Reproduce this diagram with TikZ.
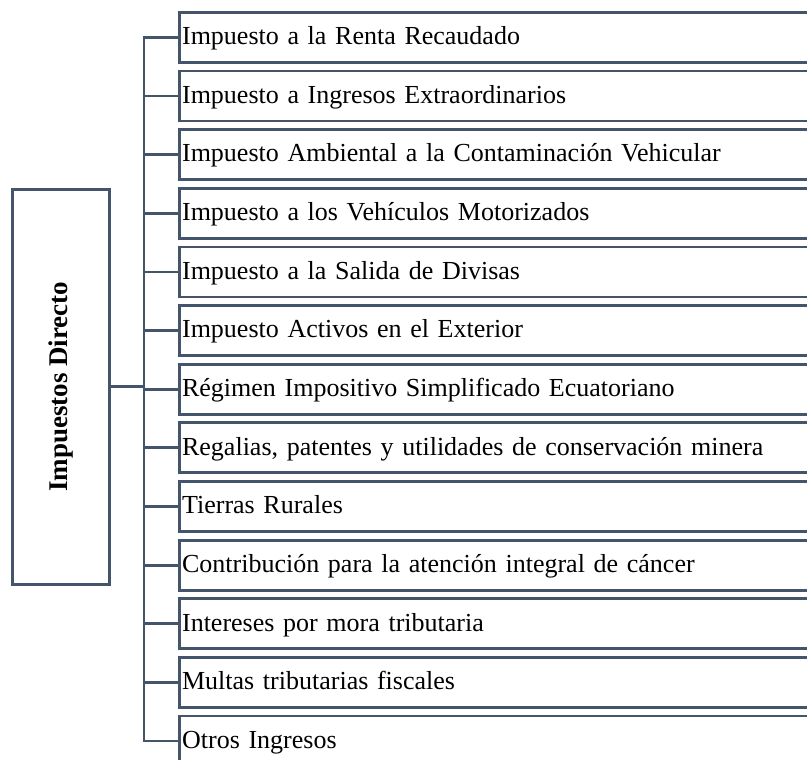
\documentclass[tikz,border=0pt]{standalone}
\usepackage{fontspec}
\setmainfont{Liberation Serif}
\definecolor{edge}{HTML}{44546A}
\begin{document}
\begin{tikzpicture}[x=1pt,y=-1pt,
  item/.style={draw=edge, line width=2.8pt, anchor=north west, minimum height=50pt,
    text width=640pt, align=left, inner xsep=3pt, inner ysep=0pt,
    text height=18pt, text depth=3.5pt, font=\fontsize{26}{30}\selectfont},
  rootbox/.style={draw=edge, line width=2.8pt, minimum width=97pt, minimum height=395pt, inner sep=0pt},
  conn/.style={draw=edge, line width=2.8pt}]
\useasboundingbox (0,0) rectangle (807,760);
\clip (0,0) rectangle (807,760);
\fill[white] (0,0) rectangle (807,760);
\coordinate (tx) at (144,0);
\node[rootbox] (root) at (60.8,386.8) {\rotatebox{90}{\bfseries\fontsize{27}{30}\selectfont Impuestos Directo}};
\foreach \t [count=\i] in {
  {Impuesto a la Renta Recaudado},
  {Impuesto a Ingresos Extraordinarios},
  {Impuesto Ambiental a la Contaminación Vehicular},
  {Impuesto a los Vehículos Motorizados},
  {Impuesto a la Salida de Divisas},
  {Impuesto Activos en el Exterior},
  {Régimen Impositivo Simplificado Ecuatoriano},
  {Regalias, patentes y utilidades de conservación minera},
  {Tierras Rurales},
  {Contribución para la atención integral de cáncer},
  {Intereses por mora tributaria},
  {Multas tributarias fiscales},
  {Otros Ingresos}}
  \node[item] (b\i) at (177.7,{11+(\i-1)*58.64}) {\t};
\draw[conn] (b1.west) -- (b1.west -| tx) |- (b13.west);
\foreach \i in {2,...,12} \draw[conn] (b\i.west) -- (b\i.west -| tx);
\draw[conn] (root.east) -- (root.east -| tx);
\end{tikzpicture}
\end{document}
